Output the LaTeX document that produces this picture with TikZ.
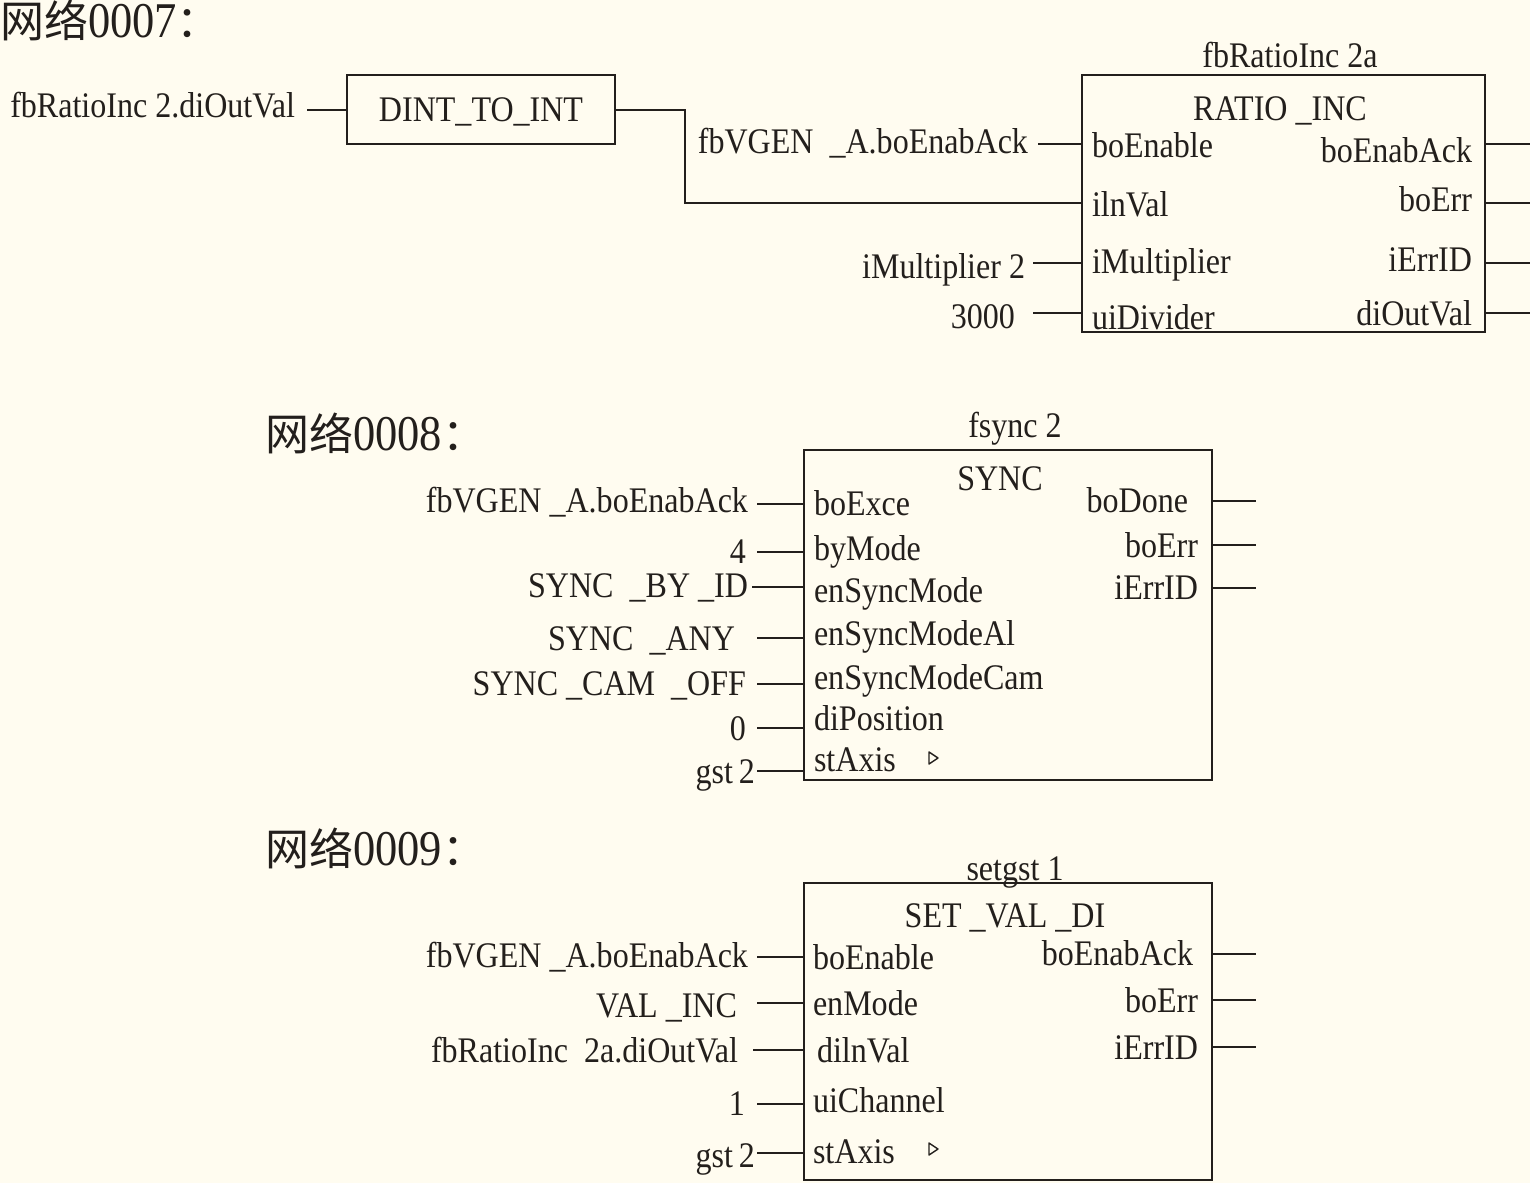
\documentclass[tikz,border=0pt]{standalone}
\usepackage{fontspec}
\setmainfont{Liberation Serif}[FakeStretch=0.89]
\newfontfamily\cjk{Noto Sans CJK SC}
\definecolor{bg}{RGB}{255,252,240}
\definecolor{ink}{RGB}{35,31,28}
\begin{document}
\begin{tikzpicture}[x=0.5pt,y=-0.5pt,
  every node/.style={inner sep=0pt, outer sep=0pt, text=ink},
  lbl/.style={font=\fontsize{18}{20}\selectfont, text height=12pt, text depth=0pt},
  lblE/.style={lbl, anchor=east},
  lblW/.style={lbl, anchor=west},
  ttl/.style={font=\fontsize{25}{28}\selectfont, anchor=west, text height=17pt, text depth=0pt},
  fbox/.style={draw=ink, line width=1pt},
  wire/.style={draw=ink, line width=1pt},
  tri/.style={draw=ink, line width=0.7pt, line join=round},
]
\fill[bg] (0,0) rectangle (1530,1183);
\useasboundingbox (0,0) rectangle (1530,1183);

% ================= Network 0007 =================
\node[ttl] (t7) at (0,20) {{\cjk\fontsize{22}{24}\selectfont 网络}0007{\cjk\fontsize{22}{24}\selectfont ：}};

\node[lblE] (n7in0) at (295,105) {fbRatioInc 2.diOutVal};
\node[fbox, lbl, minimum width=134pt, minimum height=34.5pt] (dint) at (481,109.5) {DINT\_TO\_INT};
\coordinate (n7s0) at (307,109.5);
\draw[wire] (n7s0) -- (dint.west);

\node[fbox, anchor=north west, minimum width=201.5pt, minimum height=128.5pt] (ratio) at (1082,75) {};
\node[lbl] (ratioinst) at (1290,55) {fbRatioInc 2a};
\node[lbl] (ratiotype) at (1280,108) {RATIO \_INC};

% inputs
\coordinate (ri1) at (1082,144);
\coordinate (ri2) at (1082,203);
\coordinate (ri3) at (1082,263);
\coordinate (ri4) at (1082,313);
\coordinate (rbend1) at (685,109.5);
\coordinate (rbend2) at (685,203);
\draw[wire] (dint.east) -- (rbend1) -- (rbend2) -- (ri2);

\node[lblE] (n7in1) at (1028,141) {fbVGEN \ \_A.boEnabAck};
\coordinate (n7s1) at (1038,144);
\draw[wire] (n7s1) -- (ri1);
\node[lblE] (n7in3) at (1025,266) {iMultiplier 2};
\coordinate (n7s3) at (1033,263);
\draw[wire] (n7s3) -- (ri3);
\node[lblE] (n7in4) at (1015,316) {3000};
\coordinate (n7s4) at (1033,313);
\draw[wire] (n7s4) -- (ri4);

\node[lblW] (rp1) at (1092,145) {boEnable};
\node[lblW] (rp2) at (1092,204) {ilnVal};
\node[lblW] (rp3) at (1092,261) {iMultiplier};
\node[lblW] (rp4) at (1092,317) {uiDivider};

\node[lblE] (rq1) at (1472,150) {boEnabAck};
\node[lblE] (rq2) at (1472,199) {boErr};
\node[lblE] (rq3) at (1472,259) {iErrID};
\node[lblE] (rq4) at (1472,313) {diOutVal};

\foreach \i/\y in {1/144,2/203,3/263,4/313}{
  \coordinate (ro\i) at (1485,\y);
  \coordinate (re\i) at (1530,\y);
  \draw[wire] (ro\i) -- (re\i);
}

% ================= Network 0008 =================
\node[ttl] (t8) at (265,433) {{\cjk\fontsize{22}{24}\selectfont 网络}0008{\cjk\fontsize{22}{24}\selectfont ：}};
\node[fbox, anchor=north west, minimum width=204pt, minimum height=165pt] (sync) at (804,450) {};
\node[lbl] (syncinst) at (1015,425) {fsync 2};
\node[lbl] (synctype) at (1000,478) {SYNC};

\foreach \i/\txt/\lx/\ly/\sx/\wy in {
  1/{fbVGEN \_A.boEnabAck}/748/500/757/504,
  2/{4}/746/551/757/552,
  3/{SYNC \ \_BY \_ID}/748/585/752/587,
  4/{SYNC \ \_ANY}/735/638/757/638,
  5/{SYNC \_CAM \ \_OFF}/746/683/757/684,
  6/{0}/746/728/757/728,
  7/{gst\,2}/755/771/757/771}{
  \node[lblE] (syv\i) at (\lx,\ly) {\txt};
  \coordinate (sys\i) at (\sx,\wy);
  \coordinate (syi\i) at (804,\wy);
  \draw[wire] (sys\i) -- (syi\i);
}
\foreach \i/\txt/\y in {1/boExce/503,2/byMode/548,3/enSyncMode/590,4/enSyncModeAl/633,5/enSyncModeCam/677,6/diPosition/718,7/stAxis/759}{
  \node[lblW] (syp\i) at (814,\y) {\txt};
}
\draw[tri] (929,752) -- (938,758) -- (929,764) -- cycle;

\foreach \i/\txt/\lx/\ly/\wy in {1/boDone/1188/500/501,2/boErr/1198/545/545,3/iErrID/1198/587/588}{
  \node[lblE] (syq\i) at (\lx,\ly) {\txt};
  \coordinate (syo\i) at (1212,\wy);
  \coordinate (sye\i) at (1256,\wy);
  \draw[wire] (syo\i) -- (sye\i);
}

% ================= Network 0009 =================
\node[ttl] (t9) at (265,848) {{\cjk\fontsize{22}{24}\selectfont 网络}0009{\cjk\fontsize{22}{24}\selectfont ：}};
\node[fbox, anchor=north west, minimum width=204pt, minimum height=148.5pt] (setv) at (804,883) {};
\node[lbl] (setinst) at (1015,868) {setgst 1};
\node[lbl] (settype) at (1005,915) {SET \_VAL \_DI};

\foreach \i/\txt/\lx/\ly/\sx/\wy in {
  1/{fbVGEN \_A.boEnabAck}/748/955/757/957,
  2/{VAL \_INC}/737/1005/757/1003,
  3/{fbRatioInc \ 2a.diOutVal}/738/1050/753/1050,
  4/{1}/745/1103/757/1104,
  5/{gst\,2}/755/1155/757/1153}{
  \node[lblE] (sev\i) at (\lx,\ly) {\txt};
  \coordinate (ses\i) at (\sx,\wy);
  \coordinate (sei\i) at (804,\wy);
  \draw[wire] (ses\i) -- (sei\i);
}
\foreach \i/\txt/\x/\y in {1/boEnable/813/957,2/enMode/813/1003,3/dilnVal/817/1050,4/uiChannel/813/1100,5/stAxis/813/1151}{
  \node[lblW] (sep\i) at (\x,\y) {\txt};
}
\draw[tri] (929,1143) -- (938,1149) -- (929,1155) -- cycle;

\foreach \i/\txt/\lx/\ly/\wy in {1/boEnabAck/1193/953/954,2/boErr/1198/1000/1000,3/iErrID/1198/1047/1047}{
  \node[lblE] (seq\i) at (\lx,\ly) {\txt};
  \coordinate (seo\i) at (1212,\wy);
  \coordinate (see\i) at (1256,\wy);
  \draw[wire] (seo\i) -- (see\i);
}
\end{tikzpicture}
\end{document}
